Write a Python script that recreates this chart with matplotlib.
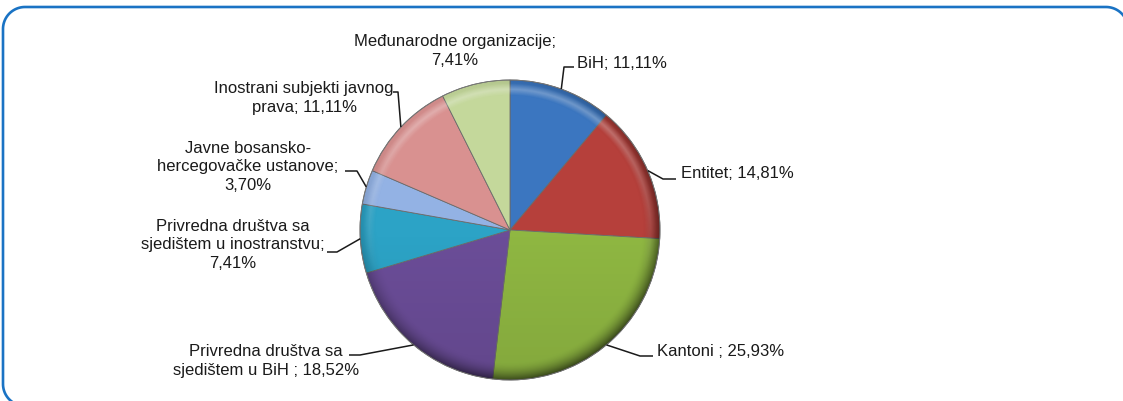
import numpy as np
import matplotlib
matplotlib.use("Agg")
import matplotlib.pyplot as plt
from matplotlib.patches import Circle

# ---- data ----
categories = ["BiH", "Entitet", "Kantoni ", "Privredna društva sa\nsjedištem u BiH ",
              "Privredna društva sa\nsjedištem u inostranstvu",
              "Javne bosansko-\nhercegovačke ustanove",
              "Inostrani subjekti javnog\nprava", "Međunarodne organizacije"]
values = [11.11, 14.81, 25.93, 18.52, 7.41, 3.70, 11.11, 7.41]
value_labels = ["11,11%", "14,81%", "25,93%", "18,52%", "7,41%", "3,70%", "11,11%", "7,41%"]
label_texts = ["BiH; 11,11%", "Entitet; 14,81%", "Kantoni ; 25,93%",
               "Privredna društva sa\nsjedištem u BiH ; 18,52%",
               "Privredna društva sa\nsjedištem u inostranstvu;\n7,41%",
               "Javne bosansko-\nhercegovačke ustanove;\n3,70%",
               "Inostrani subjekti javnog\nprava; 11,11%",
               "Međunarodne organizacije;\n7,41%"]
colors = ["#3b76c0", "#b6403b", "#8fb742", "#6b4d98", "#2ca3c6", "#93b2e4", "#d99190", "#c4d89b"]

# ---- layout (image pixel coords, y downward) ----
W, H = 1123, 401
CX, CY, R = 510, 230, 150
# (text x, text y, ha, elbow x, elbow y, end x, end y) ; None = no leader
layout = [
    (577, 63, "left", 564, 67, 574, 67),
    (681, 174, "left", 663, 179, 676, 179),
    (657, 352, "left", 640, 356, 653, 356),
    (266, 361, "center", 360, 355, 349, 355),
    (233, 245, "center", 337, 252, 327, 252),
    (248, 167, "center", 357, 171, 345, 171),
    (304, 98, "center", 398, 92, 393, 92),
    (455, 51, "center", None, None, None, None),
]

plt.rcParams['font.family'] = ['Liberation Sans Narrow', 'Liberation Sans', 'DejaVu Sans']
plt.rcParams['savefig.bbox'] = 'standard'

fig = plt.figure(figsize=(W / 100, H / 100), dpi=100)
ax = fig.add_axes([0, 0, 1, 1])

def fy(y):
    return H - y

wedges, _ = ax.pie(values, colors=colors, startangle=90, counterclock=False,
                   center=(CX, fy(CY)), radius=R, frame=True,
                   wedgeprops=dict(edgecolor="#6a6a6a", linewidth=0.6))

# border: rounded rectangle, right side beyond the canvas
bl, bt, bb, rc = 3, 7, 406, 22
# left / top / bottom edges with rounded left corners, plus the visible part of the top-right corner
left_pts = []
for (cx, cy, a0, a1) in [(bl + rc, bb - rc, 90, 180), (bl + rc, bt + rc, 180, 270)]:
    for a in np.linspace(np.deg2rad(a0), np.deg2rad(a1), 30):
        left_pts.append((cx + rc * np.cos(a), cy + rc * np.sin(a)))
left_pts = [(W + 20, bb)] + left_pts
corner = []
ccx = 1106
for a in np.linspace(np.deg2rad(-90), np.deg2rad(-35), 20):
    corner.append((ccx + rc * np.cos(a), bt + rc + rc * np.sin(a)))
pts = np.array(left_pts + corner)
ax.plot(pts[:, 0], fy(pts[:, 1]), color="#1a73c4", lw=1.9, zorder=1, clip_on=True)

# bevel shading
n = 400
xs = np.linspace(-1, 1, n)
X, Y = np.meshgrid(xs, xs)
Rr = np.sqrt(X ** 2 + Y ** 2)
ang_f = np.clip(0.55 - 0.45 * (X * -0.6 + Y * 0.8) / np.maximum(Rr, 1e-6), 0, 1)
alpha = 0.55 * np.clip((Rr - 0.88) / 0.12, 0, 1) ** 1.8 * ang_f
alpha += 0.08 * np.clip(-Y, 0, 1)
rgba = np.zeros((n, n, 4))
rgba[..., 3] = np.clip(alpha, 0, 1)
ext = (CX - R, CX + R, fy(CY) - R, fy(CY) + R)
im = ax.imshow(rgba, extent=ext, origin="lower", zorder=3, interpolation="bilinear")
im.set_clip_path(Circle((CX, fy(CY)), R, transform=ax.transData))
hl = np.zeros((n, n, 4))
hl[..., :3] = 1.0
hl[..., 3] = 0.28 * np.clip(1 - np.abs(Rr - 0.94) / 0.04, 0, 1) * np.clip(Y + 0.3, 0, 1)
im2 = ax.imshow(hl, extent=ext, origin="lower", zorder=3, interpolation="bilinear")
im2.set_clip_path(Circle((CX, fy(CY)), R, transform=ax.transData))
ax.add_patch(Circle((CX, fy(CY)), R, fill=False, edgecolor="#777777", lw=0.6, zorder=4))

ax.set_xlim(0, W)
ax.set_ylim(0, H)
ax.set_aspect("auto")
ax.axis("off")

# labels and leaders
for w, txt, lay in zip(wedges, label_texts, layout):
    tx, ty, ha, ex, ey, lx, ly = lay
    mid = np.deg2rad((w.theta1 + w.theta2) / 2)
    px = CX + R * np.cos(mid)
    py = fy(CY) + R * np.sin(mid)
    if ex is not None:
        ax.plot([px, ex, lx], [py, fy(ey), fy(ly)], color="#1a1a1a", lw=1.1,
                zorder=5, solid_capstyle="butt")
    ax.text(tx, fy(ty), txt, ha=ha, va="center", multialignment="center",
            fontsize=12, color="#1a1a1a", linespacing=1.3, zorder=6)

fig.savefig("out.png", dpi=100, bbox_inches=None)
